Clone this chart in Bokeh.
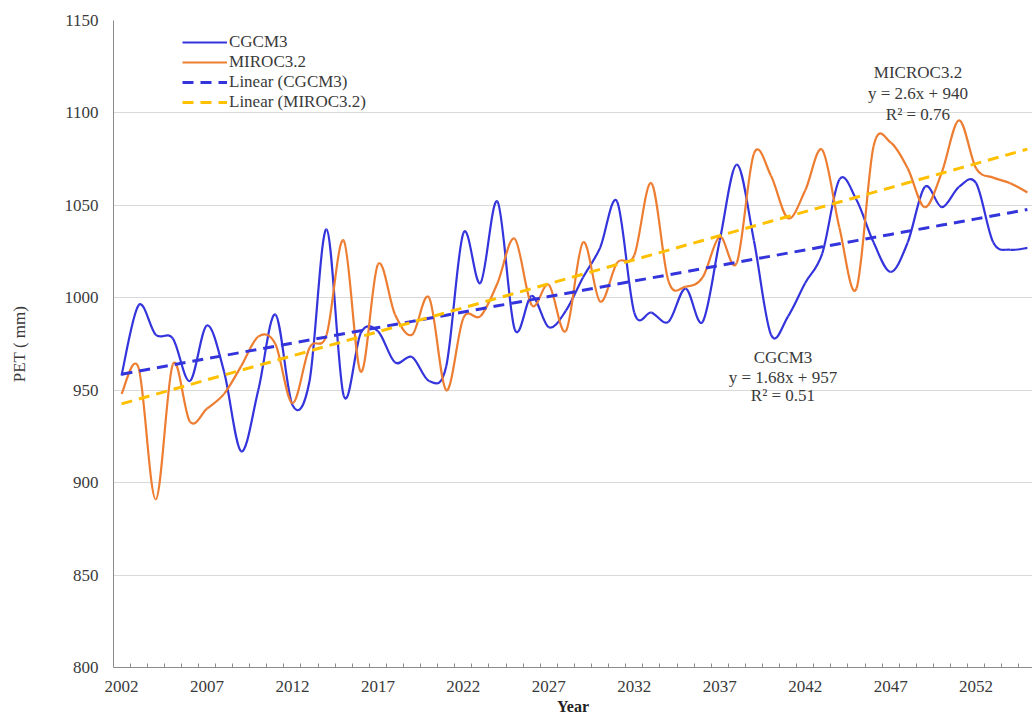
from bokeh.plotting import figure
from bokeh.models import FixedTicker, Label, Legend, LegendItem, Range1d, ColumnDataSource
from bokeh.embed import file_html
from bokeh.resources import INLINE

# ---------------- data ----------------
years = list(range(2002, 2056))
cgcm3 = [958, 996, 980, 978, 955, 985, 960, 917, 950, 991,
         942, 955, 1037, 947, 981, 982, 965, 968, 955, 963,
         1035, 1008, 1052, 983, 1001, 984, 993, 1011, 1027, 1052,
         992, 992, 987, 1005, 987, 1031, 1072, 1031, 980, 990,
         1008, 1024, 1064, 1053, 1030, 1014, 1030, 1060, 1049, 1060,
         1062, 1030, 1026, 1027]
miroc = [948, 962, 891, 964, 933, 940, 948, 963, 979, 975,
         943, 973, 980, 1031, 960, 1018, 991, 980, 1000, 950,
         989, 990, 1008, 1032, 996, 1007, 982, 1030, 998, 1019,
         1023, 1062, 1009, 1006, 1011, 1033, 1019, 1078, 1066, 1043,
         1058, 1080, 1038, 1005, 1082, 1084, 1070, 1049, 1068, 1096,
         1070, 1065, 1062, 1057]
cgcm3_slope, cgcm3_intercept, cgcm3_r2 = 1.68, 957, 0.51
miroc_slope, miroc_intercept, miroc_r2 = 2.6, 940, 0.76
x_label_years = [2002, 2007, 2012, 2017, 2022, 2027, 2032, 2037, 2042, 2047, 2052]
y_ticks = [800, 850, 900, 950, 1000, 1050, 1100, 1150]

FONT = "Liberation Serif"
TXT = "#3a3a3a"
BLUE = "#3434dc"
ORANGE = "#ed7d31"
GOLD = "#ffc000"


def bezier_source(xs, ys):
    """Smooth (Catmull-Rom style) segments between consecutive data points."""
    n = len(xs)
    d = dict(x0=[], y0=[], x1=[], y1=[], cx0=[], cy0=[], cx1=[], cy1=[])
    for i in range(n - 1):
        im = max(i - 1, 0)
        ip = min(i + 2, n - 1)
        d["x0"].append(xs[i]); d["y0"].append(ys[i])
        d["x1"].append(xs[i + 1]); d["y1"].append(ys[i + 1])
        d["cx0"].append(xs[i] + (xs[i + 1] - xs[im]) / 6.0)
        d["cy0"].append(ys[i] + (ys[i + 1] - ys[im]) / 6.0)
        d["cx1"].append(xs[i + 1] - (xs[ip] - xs[i]) / 6.0)
        d["cy1"].append(ys[i + 1] - (ys[ip] - ys[i]) / 6.0)
    return ColumnDataSource(d)


p = figure(width=1032, height=717, output_backend="svg", toolbar_location=None,
           x_range=Range1d(2001.53, 2055.3), y_range=Range1d(800, 1150),
           min_border_left=113, min_border_right=0, min_border_top=20,
           min_border_bottom=50)
p.outline_line_color = None
p.background_fill_color = "white"

# grid
p.xgrid.grid_line_color = None
p.ygrid.ticker = FixedTicker(ticks=y_ticks)
p.ygrid.grid_line_color = "#d9d9d9"
p.ygrid.grid_line_width = 1

# y axis
p.yaxis.ticker = FixedTicker(ticks=y_ticks)
p.yaxis.axis_line_color = "#8c8c8c"
p.yaxis.major_tick_line_color = None
p.yaxis.minor_tick_line_color = None
p.yaxis.major_tick_out = 0
p.yaxis.major_tick_in = 0
p.yaxis.minor_tick_out = 0
p.yaxis.major_label_text_font = FONT
p.yaxis.major_label_text_font_size = "17px"
p.yaxis.major_label_text_color = TXT
p.yaxis.major_label_standoff = 15
p.yaxis.axis_label = "PET ( mm)"
p.yaxis.axis_label_text_font = FONT
p.yaxis.axis_label_text_font_style = "normal"
p.yaxis.axis_label_text_font_size = "17px"
p.yaxis.axis_label_text_color = TXT
p.yaxis.axis_label_standoff = 33

# x axis
p.xaxis.ticker = FixedTicker(ticks=x_label_years, minor_ticks=[y + 0.5 for y in years])
p.xaxis.axis_line_color = "#8c8c8c"
p.xaxis.major_tick_line_color = None
p.xaxis.major_tick_out = 0
p.xaxis.major_tick_in = 0
p.xaxis.minor_tick_line_color = "#8c8c8c"
p.xaxis.minor_tick_in = 4
p.xaxis.minor_tick_out = 0
p.xaxis.major_label_text_font = FONT
p.xaxis.major_label_text_font_size = "17px"
p.xaxis.major_label_text_color = TXT
p.xaxis.major_label_standoff = 13
p.xaxis.axis_label = "Year"
p.xaxis.axis_label_text_font = FONT
p.xaxis.axis_label_text_font_style = "bold"
p.xaxis.axis_label_text_font_size = "16px"
p.xaxis.axis_label_text_color = "#222222"
p.xaxis.axis_label_standoff = 3

# series (smooth lines)
p.bezier(x0="x0", y0="y0", x1="x1", y1="y1", cx0="cx0", cy0="cy0", cx1="cx1", cy1="cy1",
         source=bezier_source(years, cgcm3), line_color=BLUE, line_width=2.2)
p.bezier(x0="x0", y0="y0", x1="x1", y1="y1", cx0="cx0", cy0="cy0", cx1="cx1", cy1="cy1",
         source=bezier_source(years, miroc), line_color=ORANGE, line_width=2.2)

# legend proxies (draw nothing in the plot, only the legend sample)
nan_vals = [float("nan")] * len(years)
leg_c = p.line(x=years, y=nan_vals, line_color=BLUE, line_width=2.2)
leg_m = p.line(x=years, y=nan_vals, line_color=ORANGE, line_width=2.2)

# trendlines
idx = list(range(1, len(years) + 1))
trend_c = [cgcm3_slope * i + cgcm3_intercept for i in idx]
trend_m = [miroc_slope * i + miroc_intercept for i in idx]
tc = p.line(years, trend_c, line_color=BLUE, line_width=3, line_dash="11 7")
tm = p.line(years, trend_m, line_color=GOLD, line_width=3, line_dash="11 7")

legend = Legend(items=[
    LegendItem(label="CGCM3", renderers=[leg_c]),
    LegendItem(label="MIROC3.2", renderers=[leg_m]),
    LegendItem(label="Linear (CGCM3)", renderers=[tc]),
    LegendItem(label="Linear (MIROC3.2)", renderers=[tm]),
], location=(69, 555))
legend.background_fill_alpha = 0
legend.border_line_alpha = 0
legend.label_text_font = FONT
legend.label_text_font_size = "17px"
legend.label_text_color = TXT
legend.glyph_width = 45
legend.glyph_height = 20
legend.label_height = 20
legend.label_standoff = 2
legend.spacing = 0
legend.padding = 0
legend.margin = 0
p.add_layout(legend)

# trend annotations
def add_text(x, y, t, size="17px", style="normal"):
    p.add_layout(Label(x=x, y=y, text=t, text_align="center", text_baseline="middle",
                       text_font=FONT, text_font_size=size, text_font_style=style,
                       text_color=TXT))

add_text(2048.6, 1121.9, "MICROC3.2")
add_text(2048.6, 1110.5, f"y = {miroc_slope}x + {miroc_intercept}")
add_text(2048.6, 1099.0, f"R\u00b2 = {miroc_r2}")
add_text(2040.7, 967.7, "CGCM3")
add_text(2040.7, 956.9, f"y = {cgcm3_slope}x + {cgcm3_intercept}")
add_text(2040.7, 947.1, f"R\u00b2 = {cgcm3_r2}")

open("out.html", "w").write(file_html(p, INLINE))
